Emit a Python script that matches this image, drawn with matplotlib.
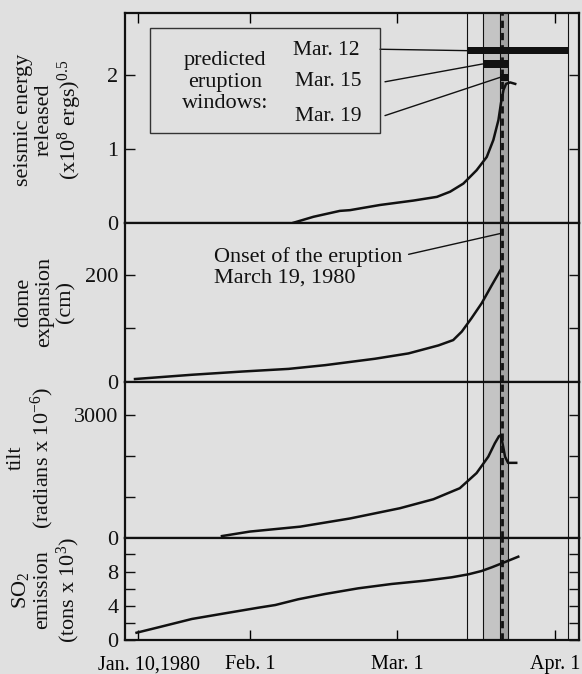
import matplotlib
matplotlib.use('Agg')
import matplotlib.pyplot as plt
from matplotlib.patches import Rectangle
from matplotlib.transforms import ScaledTranslation

plt.rcParams['font.family'] = ['Liberation Serif', 'DejaVu Serif']
plt.rcParams['mathtext.fontset'] = 'custom'
plt.rcParams['mathtext.rm'] = 'Liberation Serif'
plt.rcParams['mathtext.default'] = 'regular'

BG = '#e0e0e0'
INK = '#111111'

# x axis = day of year 1980 (Jan 1 = 1)
tick_days = [10, 32, 61, 92]
tick_labels = ['Jan. 10,1980', 'Feb. 1', 'Mar. 1', 'Apr. 1']

seis_day = [40.6, 44.5, 49.7, 51.7, 57.6, 64.2, 68.8, 71.4, 74.0, 76.6, 78.6,
            79.9, 80.9, 81.4, 81.9, 82.4, 83.2, 84.2]
seis_val = [0, 0.08, 0.16, 0.17, 0.24, 0.30, 0.35, 0.42, 0.53, 0.71, 0.89,
            1.12, 1.39, 1.62, 1.80, 1.88, 1.90, 1.88]

dome_day = [9.4, 20.6, 30.4, 39.6, 46.8, 56.6, 63.2, 69.1, 72.0, 73.7, 75.6,
            77.6, 79.6, 81.6]
dome_val = [5, 13, 19, 24, 31, 43, 53, 68, 78, 94, 119, 147, 181, 214]

tilt_day = [26.5, 32.0, 41.9, 51.7, 61.5, 68.1, 73.3, 76.6, 78.9, 80.2, 81.0,
            81.4, 81.7, 82.2, 82.8, 84.4]
tilt_val = [40, 150, 270, 470, 720, 940, 1210, 1580, 1980, 2310, 2480,
            2510, 2310, 1980, 1830, 1830]

so2_day = [9.7, 14.0, 20.6, 27.1, 33.7, 37.0, 41.5, 46.8, 53.3, 59.9, 66.5,
           71.7, 75.0, 77.6, 79.6, 81.6, 84.8]
so2_val = [0.85, 1.48, 2.46, 3.12, 3.78, 4.09, 4.76, 5.38, 6.04, 6.55, 6.94,
           7.33, 7.68, 8.07, 8.50, 8.97, 9.74]

# predicted eruption windows
win_names = ['Mar. 12', 'Mar. 15', 'Mar. 19']
win_start = [74.8, 77.8, 81.3]
win_end = [94.5, 82.8, 82.8]
win_level = [2.33, 2.15, 1.97]
onset_day = 81.7

fig = plt.figure(figsize=(5.82, 6.74), dpi=100, facecolor=BG)

W, H = 582.0, 674.0
left, right = 125.3, 579.3
bounds = [12.7, 222.7, 381.7, 537.7, 640.0]
axes = []
for i in range(4):
    top, bot = bounds[i], bounds[i + 1]
    ax = fig.add_axes([left / W, (H - bot) / H, (right - left) / W, (bot - top) / H],
                      facecolor=BG)
    axes.append(ax)
ax1, ax2, ax3, ax4 = axes

ylims = [(0, 2.844), (0, 298), (0, 3814), (0, 11.96)]
yticks = [[0, 1, 2], [0, 100, 200], [0, 1000, 2000, 3000], [0, 2, 4, 6, 8, 10]]
ylabs = [['0', '1', '2'], ['0', '', '200'], ['0', '', '', '3000'],
         ['0', '', '4', '', '8', '']]

for ax, yl, yt, lab in zip(axes, ylims, yticks, ylabs):
    ax.set_xlim(7.49, 96.81)
    ax.set_ylim(*yl)
    ax.set_yticks(yt)
    ax.set_yticklabels(lab)
    for s in ax.spines.values():
        s.set_linewidth(1.6)
        s.set_color(INK)
    ax.tick_params(axis='y', direction='in', length=7.5, width=1.0, left=True,
                   right=True, labelsize=16, pad=5, colors=INK)
    ax.tick_params(axis='x', direction='in', length=7.5, width=1.0,
                   bottom=False, top=False, labelbottom=False)
    # window bands and lines
    ax.axvspan(win_start[1], win_end[1], color='#c4c4c4', lw=0, zorder=0.5)
    ax.axvspan(win_start[2], win_end[2], color='#a2a2a2', lw=0, zorder=0.6)
    for d in [win_start[0], win_start[1], win_start[2], win_end[1], win_end[0]]:
        ax.axvline(d, color=INK, lw=0.8, zorder=1)
    ax.axvline(onset_day, color=INK, lw=2.0, ls=(0, (2.6, 1.8)), zorder=3)

ax1.tick_params(axis='x', top=True)
ax4.tick_params(axis='x', bottom=True, labelbottom=True, labelsize=14.5, pad=11)
ax4.set_xticks(tick_days)
ax4.set_xticklabels(tick_labels)
for ax in (ax1, ax2, ax3):
    ax.set_xticks(tick_days)
lbl0 = ax4.get_xticklabels()[0]
lbl0.set_transform(lbl0.get_transform() + ScaledTranslation(0.11, 0, fig.dpi_scale_trans))

ax1.plot(seis_day, seis_val, color=INK, lw=1.8, zorder=4)
ax2.plot(dome_day, dome_val, color=INK, lw=1.8, zorder=4)
ax3.plot(tilt_day, tilt_val, color=INK, lw=1.8, zorder=4)
ax4.plot(so2_day, so2_val, color=INK, lw=1.8, zorder=4)

# window bars
ax1.barh(win_level, [e - s for s, e in zip(win_start, win_end)], left=win_start,
         height=0.099, color=INK, zorder=5)

# legend box
ax1.add_patch(Rectangle((0.0544, 0.427), 0.5066, 0.5, transform=ax1.transAxes,
                        fill=False, lw=1.0, ec='#333333', zorder=6))
ax1.text(0.219, 0.670, 'predicted\neruption\nwindows:', transform=ax1.transAxes,
         ha='center', va='center', multialignment='center', fontsize=16,
         linespacing=1.15, color=INK)
name_y = [0.822, 0.670, 0.508]
name_x = [0.370, 0.374, 0.374]
line_from = [(0.561, 0.826), (0.572, 0.671), (0.572, 0.510)]
for nm, nx, ny, lf, s, lv in zip(win_names, name_x, name_y, line_from, win_start, win_level):
    ax1.text(nx, ny, nm, transform=ax1.transAxes, ha='left', va='center',
             fontsize=15.5, color=INK)
    ax1.annotate('', xy=(s, lv), xycoords='data', xytext=lf, textcoords='axes fraction',
                 arrowprops=dict(arrowstyle='-', lw=1.0, color=INK, shrinkA=0, shrinkB=0))

# onset annotation
ax2.text(0.195, 0.72, 'Onset of the eruption\nMarch 19, 1980', transform=ax2.transAxes,
         ha='left', va='center', fontsize=16, linespacing=1.1, color=INK)
ax2.annotate('', xy=(onset_day - 0.3, 278), xycoords='data', xytext=(0.624, 0.801),
             textcoords='axes fraction',
             arrowprops=dict(arrowstyle='-', lw=1.0, color=INK, shrinkA=0, shrinkB=0))

# y labels
ylab_text = ['seismic energy\nreleased\n(x10$^8$ ergs)$^{0.5}$',
             'dome\nexpansion\n(cm)',
             'tilt\n(radians x 10$^{-6}$)',
             'SO$_2$\nemission\n(tons x 10$^3$)']
ylab_pos = [(49, 120), (45, 302), (31.5, 458), (46, 590)]
for t, (px, py) in zip(ylab_text, ylab_pos):
    fig.text(px / W, 1 - py / H, t, rotation=90, ha='center', va='center',
             multialignment='center', fontsize=16, linespacing=1.12, color=INK)

fig.savefig('out.png', dpi=100, facecolor=BG)
